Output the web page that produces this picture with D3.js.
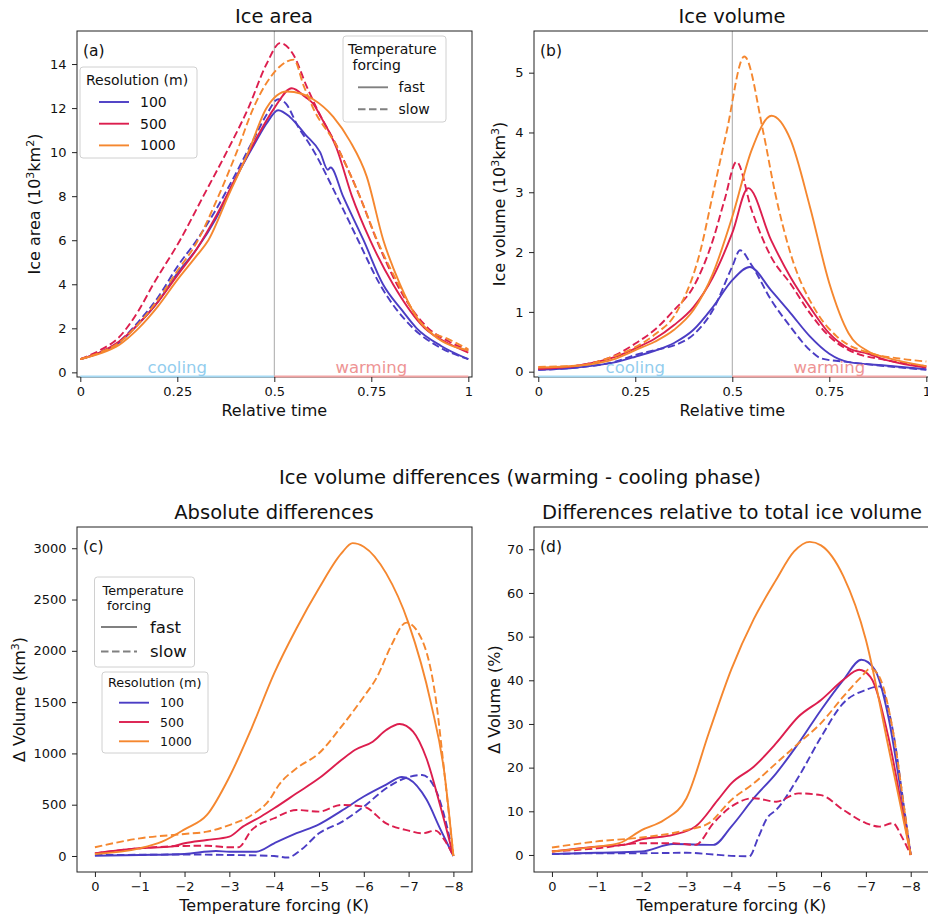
<!DOCTYPE html>
<html>
<head>
<meta charset="utf-8">
<script src="https://cdn.jsdelivr.net/npm/d3@7"></script>
<style>
body { margin: 0; background: #fff; }
text { font-family: "DejaVu Sans", sans-serif; fill: #111; }
</style>
</head>
<body>
<div id="fig"></div>
<script>
// ---- données ----
const resolutions = ["100", "500", "1000"];
const vitesses = ["fast", "slow"];
const couleurs = { "100": "#4b3dc4", "500": "#dc1e4e", "1000": "#f5872f" };

const ticksTemps = [0, 0.25, 0.5, 0.75, 1];
const ticksForcage = [0, -1, -2, -3, -4, -5, -6, -7, -8];
const ticksAire = [0, 2, 4, 6, 8, 10, 12, 14];
const ticksVolume = [0, 1, 2, 3, 4, 5];
const ticksDiffAbs = [0, 500, 1000, 1500, 2000, 2500, 3000];
const ticksDiffRel = [0, 10, 20, 30, 40, 50, 60, 70];

// (a) surface de glace, [temps relatif, 10^3 km2]
const aire100fast = [[0,0.6],[0.05,0.9],[0.1,1.35],[0.15,2.2],[0.2,3.2],[0.25,4.5],[0.3,5.6],[0.35,7.0],[0.4,8.8],[0.45,10.4],[0.48,11.3],[0.51,11.9],[0.54,11.6],[0.58,10.8],[0.618,10.0],[0.638,9.2],[0.645,9.3],[0.677,8.0],[0.73,6.0],[0.78,4.0],[0.83,2.8],[0.867,2.0],[0.93,1.2],[1,0.6]];
const aire100slow = [[0,0.6],[0.05,0.9],[0.1,1.4],[0.15,2.3],[0.2,3.4],[0.25,4.8],[0.3,6.0],[0.35,7.4],[0.4,9.0],[0.45,10.7],[0.48,11.7],[0.51,12.4],[0.53,12.2],[0.56,11.2],[0.6,10.1],[0.661,8.0],[0.716,6.0],[0.772,4.0],[0.858,2.0],[0.92,1.2],[1,0.6]];
const aire500fast = [[0,0.6],[0.05,0.9],[0.1,1.4],[0.15,2.2],[0.2,3.2],[0.25,4.4],[0.3,5.6],[0.35,7.1],[0.4,8.8],[0.45,10.5],[0.5,12.0],[0.545,12.9],[0.58,12.5],[0.6,12.2],[0.62,11.6],[0.66,10.2],[0.70,8.0],[0.747,6.0],[0.806,4.0],[0.888,2.0],[0.95,1.3],[1,0.9]];
const aire500slow = [[0,0.6],[0.05,1.0],[0.1,1.6],[0.15,2.8],[0.188,4.0],[0.257,6.0],[0.317,8.0],[0.377,10.0],[0.433,12.0],[0.48,14.0],[0.515,14.95],[0.55,14.4],[0.583,13.0],[0.609,12.0],[0.669,10.0],[0.72,8.0],[0.764,6.0],[0.816,4.0],[0.897,2.0],[0.95,1.4],[1,1.0]];
const aire1000fast = [[0,0.6],[0.05,0.85],[0.1,1.25],[0.15,2.0],[0.2,3.0],[0.25,4.2],[0.3,5.3],[0.33,6.0],[0.381,8.0],[0.433,10.0],[0.48,12.0],[0.532,12.75],[0.57,12.65],[0.6,12.4],[0.652,11.6],[0.695,10.5],[0.738,8.9],[0.781,6.0],[0.824,4.0],[0.867,2.5],[0.91,1.7],[1,1.0]];
const aire1000slow = [[0,0.6],[0.05,0.9],[0.1,1.35],[0.15,2.2],[0.2,3.3],[0.25,4.6],[0.3,5.9],[0.356,8.0],[0.403,10.0],[0.446,12.0],[0.49,13.4],[0.515,13.9],[0.55,14.2],[0.576,13.0],[0.6,12.0],[0.66,10.3],[0.72,8.0],[0.765,6.0],[0.82,4.0],[0.89,2.0],[0.95,1.5],[1,1.05]];

// (b) volume de glace, [temps relatif, 10^3 km3]
const vol100fast = [[0,0.03],[0.1,0.07],[0.2,0.16],[0.25,0.25],[0.3,0.35],[0.35,0.48],[0.4,0.7],[0.45,1.08],[0.5,1.53],[0.545,1.75],[0.6,1.36],[0.65,0.98],[0.7,0.59],[0.75,0.3],[0.8,0.16],[0.9,0.1],[1,0.04]];
const vol100slow = [[0,0.03],[0.1,0.07],[0.2,0.17],[0.25,0.28],[0.3,0.36],[0.35,0.44],[0.4,0.62],[0.45,1.03],[0.5,1.76],[0.52,2.03],[0.55,1.78],[0.6,1.2],[0.65,0.75],[0.7,0.36],[0.73,0.22],[0.8,0.16],[0.9,0.09],[1,0.03]];
const vol500fast = [[0,0.05],[0.1,0.1],[0.2,0.25],[0.25,0.39],[0.3,0.55],[0.35,0.78],[0.4,1.08],[0.45,1.58],[0.5,2.32],[0.541,3.07],[0.6,2.2],[0.65,1.58],[0.7,1.08],[0.75,0.64],[0.8,0.39],[0.85,0.3],[0.9,0.19],[1,0.07]];
const vol500slow = [[0,0.05],[0.1,0.1],[0.2,0.28],[0.25,0.47],[0.3,0.7],[0.35,1.03],[0.4,1.42],[0.45,2.2],[0.48,2.87],[0.511,3.51],[0.55,2.7],[0.6,1.92],[0.65,1.47],[0.7,0.98],[0.75,0.59],[0.8,0.36],[0.9,0.19],[1,0.09]];
const vol1000fast = [[0,0.07],[0.1,0.1],[0.2,0.22],[0.25,0.36],[0.3,0.5],[0.35,0.7],[0.4,1.03],[0.45,1.64],[0.5,2.59],[0.55,3.71],[0.601,4.28],[0.65,3.88],[0.7,2.76],[0.75,1.48],[0.8,0.64],[0.85,0.34],[0.9,0.23],[1,0.09]];
const vol1000slow = [[0,0.08],[0.1,0.1],[0.2,0.27],[0.25,0.41],[0.3,0.62],[0.357,1.0],[0.417,2.0],[0.451,3.0],[0.485,4.0],[0.531,5.27],[0.58,4.0],[0.61,3.0],[0.649,2.0],[0.717,1.0],[0.769,0.59],[0.855,0.31],[0.93,0.22],[1,0.17]];

// (c) différences absolues, [forçage K, km3]
const dAbs100fast = [[0,3],[-1,10],[-2,20],[-2.7,49],[-3,42],[-3.6,42],[-4,124],[-4.5,222],[-5,309],[-5.5,440],[-6,580],[-6.5,696],[-6.85,770],[-7,752],[-7.4,550],[-7.7,270],[-8,0]];
const dAbs100slow = [[0,10],[-1,12],[-2,15],[-3,10],[-4,0],[-4.3,-15],[-4.6,60],[-5,221],[-5.5,330],[-6,481],[-6.5,660],[-7,770],[-7.3,790],[-7.6,650],[-7.85,300],[-8,0]];
const dAbs500fast = [[0,26],[-1,75],[-1.7,91],[-2,124],[-2.5,156],[-3,189],[-3.3,286],[-3.7,383],[-4,465],[-4.5,611],[-5,757],[-5.5,935],[-5.8,1033],[-6.2,1114],[-6.5,1228],[-6.8,1287],[-7.1,1212],[-7.4,950],[-7.7,500],[-8,0]];
const dAbs500slow = [[0,26],[-1,75],[-2,98],[-2.5,100],[-3,85],[-3.2,85],[-3.5,254],[-4,368],[-4.5,449],[-5,433],[-5.5,498],[-6,481],[-6.5,318],[-7,247],[-7.3,221],[-7.6,247],[-7.8,156],[-8,0]];
const dAbs1000fast = [[0,20],[-1,75],[-1.5,140],[-2,260],[-2.5,400],[-3,770],[-3.5,1250],[-4,1780],[-4.5,2220],[-5,2610],[-5.5,2950],[-5.75,3050],[-6,3015],[-6.5,2755],[-7,2268],[-7.5,1488],[-7.8,806],[-8,0]];
const dAbs1000slow = [[0,85],[-1,172],[-2,215],[-2.5,237],[-3,302],[-3.5,400],[-3.9,550],[-4.1,690],[-4.5,855],[-5,1001],[-5.5,1261],[-6,1553],[-6.3,1748],[-6.6,2040],[-6.95,2275],[-7.3,2106],[-7.6,1553],[-7.8,806],[-8,0]];

// (d) différences relatives, [forçage K, %]
const dRel100fast = [[0,0.2],[-1,0.5],[-2,0.8],[-2.7,2.5],[-3.6,2.3],[-4,6.5],[-4.5,13],[-5,18.7],[-5.5,25.6],[-6,33.2],[-6.5,40.1],[-6.9,44.7],[-7.2,42.4],[-7.5,31.7],[-7.8,13.3],[-8,0]];
const dRel100slow = [[0,0.2],[-1,0.4],[-2,0.4],[-3,0.5],[-3.5,0.2],[-4,-0.2],[-4.4,-0.3],[-4.6,4],[-4.8,8.5],[-5,10.3],[-5.5,17.9],[-6,27],[-6.5,34.8],[-7,37.8],[-7.3,38.6],[-7.6,28.6],[-7.85,11],[-8,0]];
const dRel500fast = [[0,0.8],[-1,1.9],[-1.6,2.3],[-2,3.6],[-2.7,4.6],[-3.2,6.5],[-3.7,12.6],[-4,16.4],[-4.5,20.2],[-5,25.6],[-5.5,31.7],[-6,35.5],[-6.5,40.1],[-6.85,42.4],[-7.1,40.8],[-7.5,27.1],[-7.8,11.1],[-8,0]];
const dRel500slow = [[0,0.8],[-1,1.5],[-2,2.7],[-2.7,2.7],[-3.2,2.3],[-3.6,7.3],[-4,11.1],[-4.5,13],[-5,12.2],[-5.5,14.1],[-6,13.7],[-6.5,10.3],[-7,7.3],[-7.3,6.5],[-7.6,7.3],[-7.8,4.2],[-8,0]];
const dRel1000fast = [[0,0.8],[-1,1.9],[-1.5,2.7],[-2,5.7],[-2.5,8.0],[-3,13.0],[-3.5,28],[-4,42.5],[-4.5,54],[-5,63],[-5.4,69.5],[-5.75,71.7],[-6,70.9],[-6.5,63.8],[-7,49.3],[-7.5,24.9],[-8,0]];
const dRel1000slow = [[0,1.7],[-1,3.1],[-2,4.0],[-3,5.7],[-3.5,7.3],[-4,12.6],[-4.5,16.4],[-5,21],[-5.5,25.6],[-6,30.2],[-6.5,36.3],[-6.9,40.8],[-7.1,42.7],[-7.3,40.8],[-7.6,28.6],[-7.85,11],[-8,0]];

// ---- dessin ----
const svg = d3.select("#fig").append("svg").attr("width", 928).attr("height", 919);
svg.append("rect").attr("width", "100%").attr("height", "100%").attr("fill", "white");

function serie(res, vitesse, data) { return { res: res, vitesse: vitesse, data: data }; }

/* Dessine un panneau : cadre, courbes, axes, titres */
function dessinerPanneau(p, id) {
    let x = d3.scaleLinear().domain(p.xdom).range([p.x0, p.x1]);
    let y = d3.scaleLinear().domain(p.ydom).range([p.y1, p.y0]);

    svg.append("clipPath").attr("id", "clip" + id)
        .append("rect").attr("x", p.x0).attr("y", p.y0).attr("width", p.x1 - p.x0).attr("height", p.y1 - p.y0);

    let g = svg.append("g").attr("clip-path", "url(#clip" + id + ")");

    if (p.phases) {
        // ligne verticale au milieu
        g.append("line").attr("x1", x(0.5)).attr("x2", x(0.5)).attr("y1", p.y0).attr("y2", p.y1)
            .attr("stroke", "#a8a8a8").attr("stroke-width", 1);
    }

    let ligne = d3.line().x(d => x(d[0])).y(d => y(d[1])).curve(d3.curveMonotoneX);
    for (let s of p.series) {
        g.append("path").attr("d", ligne(s.data))
            .attr("fill", "none")
            .attr("stroke", couleurs[s.res])
            .attr("stroke-width", 1.9)
            .attr("stroke-dasharray", s.vitesse == "slow" ? "7.5,3.5" : null);
    }

    // cadre
    svg.append("rect").attr("x", p.x0).attr("y", p.y0).attr("width", p.x1 - p.x0).attr("height", p.y1 - p.y0)
        .attr("fill", "none").attr("stroke", "#222").attr("stroke-width", 1);

    if (p.phases) {
        // lignes cooling / warming par-dessus le bas du cadre
        svg.append("line").attr("x1", x(0)).attr("x2", x(0.5)).attr("y1", p.y1 - 0.5).attr("y2", p.y1 - 0.5)
            .attr("stroke", "#a6d9f3").attr("stroke-width", 2);
        svg.append("line").attr("x1", x(0.5)).attr("x2", Math.min(x(1), 928)).attr("y1", p.y1 - 0.5).attr("y2", p.y1 - 0.5)
            .attr("stroke", "#f2a4a4").attr("stroke-width", 2);
        svg.append("text").attr("x", x(0.25)).attr("y", p.y1 - 4).attr("text-anchor", "middle")
            .style("font-size", "16.5px").style("fill", "#92cdee").text("cooling");
        svg.append("text").attr("x", x(0.75)).attr("y", p.y1 - 4).attr("text-anchor", "middle")
            .style("font-size", "16.5px").style("fill", "#ee9494").text("warming");
    }

    // axes
    let axeX = svg.append("g").attr("transform", "translate(0," + p.y1 + ")")
        .call(d3.axisBottom(x).tickValues(p.xticks).tickFormat(p.xfmt).tickSize(5).tickPadding(4.5));
    let axeY = svg.append("g").attr("transform", "translate(" + p.x0 + ",0)")
        .call(d3.axisLeft(y).tickValues(p.yticks).tickFormat(d3.format("d")).tickSize(5).tickPadding(5.5));
    for (let a of [axeX, axeY]) {
        a.select(".domain").remove();
        a.selectAll("line").attr("stroke", "#222");
        a.selectAll("text").style("font-size", "13px").style("font-family", "DejaVu Sans").attr("fill", "#111");
    }

    // titre, étiquettes
    svg.append("text").attr("x", p.titleX).attr("y", p.y0 - 8)
        .attr("text-anchor", "middle").style("font-size", "19.5px").text(p.title);
    svg.append("text").attr("x", x(p.xmid)).attr("y", p.y1 + 38.5)
        .attr("text-anchor", "middle").style("font-size", "16px").text(p.xlabel);
    let yl = svg.append("text")
        .attr("transform", "translate(" + p.ylabelX + "," + ((p.y0 + p.y1) / 2) + ") rotate(-90)")
        .attr("text-anchor", "middle").style("font-size", "16px");
    let decalage = 0; // on remet la ligne de base après un exposant
    for (let morceau of p.ylabel) {
        if (typeof morceau === "string") {
            yl.append("tspan").attr("dy", decalage).text(morceau);
            decalage = 0;
        } else {
            yl.append("tspan").attr("dy", -6).style("font-size", "11px").text(morceau.exposant);
            decalage = 6;
        }
    }
    svg.append("text").attr("x", p.x0 + 6).attr("y", p.y0 + 24.5).style("font-size", "15.5px").text(p.tag);
}

const fmtTemps = d => String(d);
const fmtForcage = d3.format("d");

dessinerPanneau({
    x0: 77, x1: 472, y0: 31, y1: 377, xdom: [-0.0085, 1.0095], ydom: [-0.21, 15.5],
    xticks: ticksTemps, xfmt: fmtTemps, yticks: ticksAire, xmid: 0.5, phases: true,
    title: "Ice area", titleX: 274, xlabel: "Relative time", tag: "(a)", ylabelX: 40,
    ylabel: ["Ice area (10", { exposant: "3" }, "km", { exposant: "2" }, ")"],
    series: [serie("100", "fast", aire100fast), serie("100", "slow", aire100slow),
             serie("500", "fast", aire500fast), serie("500", "slow", aire500slow),
             serie("1000", "fast", aire1000fast), serie("1000", "slow", aire1000slow)]
}, "a");

dessinerPanneau({
    x0: 534, x1: 930, y0: 31, y1: 377, xdom: [-0.011, 1.0095], ydom: [-0.089, 5.697],
    xticks: ticksTemps, xfmt: fmtTemps, yticks: ticksVolume, xmid: 0.5, phases: true,
    title: "Ice volume", titleX: 732, xlabel: "Relative time", tag: "(b)", ylabelX: 505,
    ylabel: ["Ice volume (10", { exposant: "3" }, "km", { exposant: "3" }, ")"],
    series: [serie("100", "fast", vol100fast), serie("100", "slow", vol100slow),
             serie("500", "fast", vol500fast), serie("500", "slow", vol500slow),
             serie("1000", "fast", vol1000fast), serie("1000", "slow", vol1000slow)]
}, "b");

dessinerPanneau({
    x0: 77, x1: 472, y0: 527, y1: 872, xdom: [0.4, -8.415], ydom: [-156, 3207],
    xticks: ticksForcage, xfmt: fmtForcage, yticks: ticksDiffAbs, xmid: -4,
    title: "Absolute differences", titleX: 274, xlabel: "Temperature forcing (K)", tag: "(c)", ylabelX: 25,
    ylabel: ["Δ Volume (km", { exposant: "3" }, ")"],
    series: [serie("100", "fast", dAbs100fast), serie("100", "slow", dAbs100slow),
             serie("500", "fast", dAbs500fast), serie("500", "slow", dAbs500slow),
             serie("1000", "fast", dAbs1000fast), serie("1000", "slow", dAbs1000slow)]
}, "c");

dessinerPanneau({
    x0: 534, x1: 930, y0: 527, y1: 872, xdom: [0.4, -8.43], ydom: [-3.9, 75.1],
    xticks: ticksForcage, xfmt: fmtForcage, yticks: ticksDiffRel, xmid: -4,
    title: "Differences relative to total ice volume", titleX: 732, xlabel: "Temperature forcing (K)", tag: "(d)", ylabelX: 500,
    ylabel: ["Δ Volume (%)"],
    series: [serie("100", "fast", dRel100fast), serie("100", "slow", dRel100slow),
             serie("500", "fast", dRel500fast), serie("500", "slow", dRel500slow),
             serie("1000", "fast", dRel1000fast), serie("1000", "slow", dRel1000slow)]
}, "d");

svg.append("text").attr("x", 520).attr("y", 484).attr("text-anchor", "middle")
    .style("font-size", "19.5px").text("Ice volume differences (warming - cooling phase)");

/* Légendes */
function cadreLegende(x, y, w, h) {
    svg.append("rect").attr("x", x).attr("y", y).attr("width", w).attr("height", h).attr("rx", 3)
        .attr("fill", "white").attr("fill-opacity", 0.8).attr("stroke", "#d0d0d0").attr("stroke-width", 1);
}

function legendeResolution(x, y, w, h, tx, ty, lx, ly, pas, tailleTitre, tailleTexte) {
    cadreLegende(x, y, w, h);
    svg.append("text").attr("x", tx).attr("y", ty).style("font-size", tailleTitre + "px").text("Resolution (m)");
    resolutions.forEach((r, i) => {
        svg.append("line").attr("x1", lx).attr("x2", lx + 30).attr("y1", ly + i * pas).attr("y2", ly + i * pas)
            .attr("stroke", couleurs[r]).attr("stroke-width", 1.9);
        svg.append("text").attr("x", lx + 41).attr("y", ly + i * pas + tailleTexte * 0.36)
            .style("font-size", tailleTexte + "px").text(r);
    });
}

function legendeForcage(x, y, w, h, tx, ty, lx, ly, pas, lw, tailleTitre, tailleTexte, dx) {
    cadreLegende(x, y, w, h);
    svg.append("text").attr("x", tx).attr("y", ty).style("font-size", tailleTitre + "px").text("Temperature");
    svg.append("text").attr("x", tx + 4.5).attr("y", ty + tailleTitre * 1.15).style("font-size", tailleTitre + "px").text("forcing");
    vitesses.forEach((v, i) => {
        svg.append("line").attr("x1", lx).attr("x2", lx + lw).attr("y1", ly + i * pas).attr("y2", ly + i * pas)
            .attr("stroke", "#808080").attr("stroke-width", 1.9)
            .attr("stroke-dasharray", v == "slow" ? "7.5,3.5" : null);
        svg.append("text").attr("x", lx + lw + dx).attr("y", ly + i * pas + tailleTexte * 0.36)
            .style("font-size", tailleTexte + "px").text(v);
    });
}

legendeResolution(80, 67, 117, 91, 86, 85, 99, 102, 21.7, 14, 14);
legendeForcage(343, 36, 103, 86, 348, 54, 358, 87.3, 22, 30, 14, 14, 10.5);
legendeForcage(94.5, 577, 100, 90, 102.5, 595, 101, 627, 24.5, 36, 12.8, 16.5, 13);
legendeResolution(102, 672, 106, 81, 108, 687, 119, 702.7, 19.3, 12.8, 12.5);
</script>
</body>
</html>
